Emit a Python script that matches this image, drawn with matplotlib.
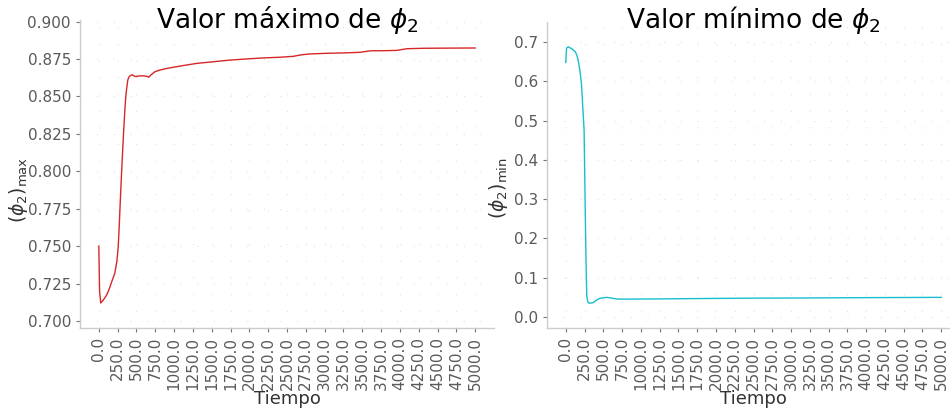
import numpy as np
import matplotlib
matplotlib.use("Agg")
import matplotlib.pyplot as plt

# valor máximo de phi_2 frente al tiempo
t_max = [0, 10, 25, 60, 100, 133, 170, 213, 240, 257, 270, 280, 295, 310, 328,
         346, 360, 372, 385, 399, 420, 443, 465, 487, 530, 590, 640, 665, 690,
         722, 745, 800, 900, 1010, 1150, 1300, 1500, 1740, 2000, 2200, 2400,
         2580, 2700, 2800, 3000, 3250, 3471, 3604, 3800, 3958, 4090, 4300,
         4600, 5000]
phi_max = [0.750, 0.720, 0.712, 0.714, 0.717, 0.7207, 0.726, 0.732, 0.740,
           0.749, 0.762, 0.774, 0.791, 0.807, 0.825, 0.841, 0.851, 0.856,
           0.861, 0.8629, 0.8640, 0.8645, 0.8638, 0.8633, 0.8637, 0.8638,
           0.8634, 0.8629, 0.8643, 0.8656, 0.8665, 0.8675, 0.8687, 0.8697,
           0.8709, 0.8721, 0.8731, 0.8743, 0.8752, 0.8758, 0.8762, 0.8768,
           0.8779, 0.8784, 0.8788, 0.8791, 0.8795, 0.8805, 0.8806, 0.8808,
           0.8819, 0.8822, 0.8823, 0.8824]

# valor mínimo de phi_2 frente al tiempo
t_min = [0, 10, 31, 80, 129, 155, 173, 190, 209, 225, 244, 263, 272, 280, 295,
         311, 364, 410, 453, 500, 542, 600, 676, 800, 1053, 1500, 2000, 2500,
         3253, 4000, 5000]
phi_min = [0.648, 0.684, 0.688, 0.683, 0.675, 0.662, 0.6455, 0.625, 0.5946,
           0.54, 0.4758, 0.2214, 0.12, 0.0517, 0.038, 0.035, 0.0364, 0.043,
           0.0475, 0.0488, 0.0500, 0.0485, 0.0458, 0.0455, 0.0458, 0.0465,
           0.0473, 0.0480, 0.0485, 0.0493, 0.0500]

xticks = list(range(0, 5001, 250))
xticklabels = [f"{v:.1f}" for v in xticks]

fig = plt.figure(figsize=(9.5, 4.13), dpi=100)
ax1 = fig.add_axes([80 / 950, 85 / 413, 414 / 950, 308 / 413])
ax2 = fig.add_axes([547 / 950, 85 / 413, 413 / 950, 306 / 413])


def estilo(ax, x, y, color, titulo, ylabel, ylim, title_y, ylabel_xy):
    ax.plot(x, y, color=color, linewidth=1.0)
    ax.set_xlim(-250, 5250)
    ax.set_ylim(*ylim)
    ax.set_xticks(xticks)
    ax.set_xticklabels(xticklabels, rotation=90)
    ax.tick_params(labelsize=11, labelcolor="#5a5a5a", color="#777777",
                   length=3, width=0.8)
    ax.grid(True, linestyle=(0, (1, 14)), color="#e2e2e2", linewidth=0.8)
    for s in ("top", "right"):
        ax.spines[s].set_visible(False)
    for s in ("left", "bottom"):
        ax.spines[s].set_color("#cccccc")
        ax.spines[s].set_linewidth(1.0)
    # el título queda dentro del borde superior de los ejes
    ax.set_title(titulo, fontsize=19, y=title_y, pad=0)
    ax.set_xlabel("Tiempo", fontsize=13, color="#333333", labelpad=0)
    ax.set_ylabel(ylabel, fontsize=13.5, color="#333333")
    ax.yaxis.set_label_coords(*ylabel_xy)


estilo(ax1, t_max, phi_max, "#d62728", r"Valor máximo de $\phi_2$",
       r"$(\phi_2)_{\mathrm{max}}$", (0.6953, 0.9011), 0.974, (-0.121, 0.448))
estilo(ax2, t_min, phi_min, "#17becf", r"Valor mínimo de $\phi_2$",
       r"$(\phi_2)_{\mathrm{min}}$", (-0.028, 0.751), 0.980, (-0.09, 0.457))

fig.savefig("out.png", dpi=100)
